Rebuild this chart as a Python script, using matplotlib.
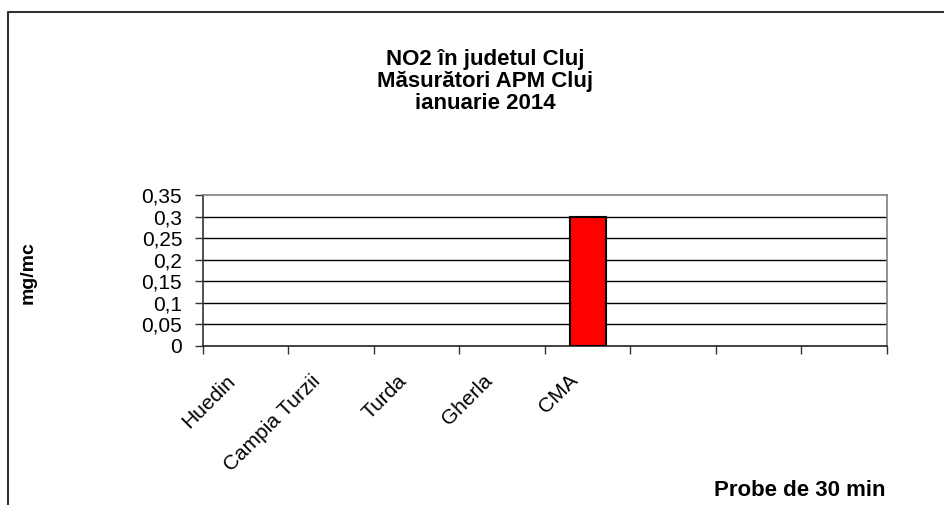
import numpy as np
import matplotlib.pyplot as plt
from matplotlib.lines import Line2D
from matplotlib.transforms import ScaledTranslation

plt.rcParams['font.family'] = ['Liberation Sans', 'DejaVu Sans']

# data
stations = ["Huedin", "Campia Turzii", "Turda", "Gherla", "CMA", "", "", ""]
no2 = [np.nan, np.nan, np.nan, np.nan, 0.3, np.nan, np.nan, np.nan]
yticks = [0, 0.05, 0.1, 0.15, 0.2, 0.25, 0.3, 0.35]
ytick_labels = ["0", "0,05", "0,1", "0,15", "0,2", "0,25", "0,3", "0,35"]
title_lines = ["NO2 în judetul Cluj", "Măsurători APM Cluj", "ianuarie 2014"]

fig = plt.figure(figsize=(9.44, 5.05), dpi=100)
ax = fig.add_axes([0.215, 0.3149, 0.7246, 0.299])

xpos = np.arange(len(stations))
vals = np.array(no2, dtype=float)
ok = ~np.isnan(vals)
ax.bar(xpos[ok], vals[ok], width=0.42, color='#ff0000', edgecolor='black',
       linewidth=1.5, zorder=3)

ax.set_xlim(-0.5, len(stations) - 0.5)
ax.set_ylim(0, 0.35)
ax.set_yticks(yticks)
ax.set_yticklabels(ytick_labels, fontsize=15)
ax.tick_params(axis='y', direction='out', length=6, width=1, pad=9, color='#333333')

# labels at category centres, tick marks at category boundaries
ax.set_xticks(xpos)
ax.set_xticklabels(stations, fontsize=15, rotation=45, ha='right', va='top',
                   rotation_mode='anchor')
ax.tick_params(axis='x', which='major', length=0, pad=18)
ax.set_xticks(np.arange(-0.5, len(stations)), minor=True)
ax.tick_params(axis='x', which='minor', direction='out', length=6, width=1, color='#333333')
shift = ScaledTranslation(-0.2, 0, fig.dpi_scale_trans)
for lbl in ax.get_xticklabels():
    lbl.set_transform(lbl.get_transform() + shift)

for y in yticks[1:-1]:
    ax.axhline(y, color='black', linewidth=1, zorder=1)

ax.spines['top'].set_color('#808080')
ax.spines['right'].set_color('#808080')
ax.spines['left'].set_color('#333333')
ax.spines['bottom'].set_color('#222222')
for s in ax.spines.values():
    s.set_linewidth(1.2)

# title, three lines
for i, line in enumerate(title_lines):
    fig.text(485 / 944, 1 - (65 + 22 * i) / 505, line, fontsize=16,
             fontweight='bold', ha='center', va='baseline')

fig.text(28 / 944, 1 - 273 / 505, "mg/mc", fontsize=14, fontweight='bold',
         rotation=90, ha='center', va='center')
fig.text(885 / 944, 1 - 490 / 505, "Probe de 30 min", fontsize=16,
         fontweight='bold', ha='right', va='center')

# chart area frame (left and top edges visible)
fig.add_artist(Line2D([7.5 / 944, 7.5 / 944, 1.0], [0.0, 1 - 11.5 / 505, 1 - 11.5 / 505],
                      transform=fig.transFigure, color='#333333', linewidth=1.5))

plt.savefig("out.png", dpi=100)
